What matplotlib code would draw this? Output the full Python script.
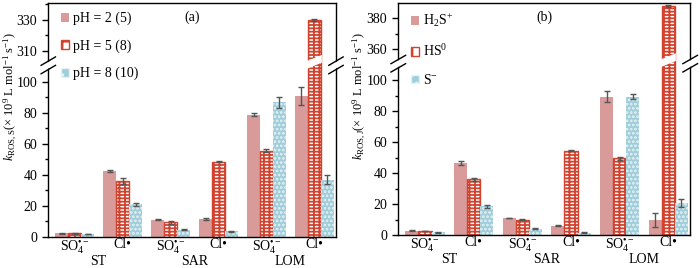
import numpy as np
import matplotlib.pyplot as plt
from matplotlib.patches import Polygon, Patch

plt.rcParams['font.family'] = ['Liberation Serif', 'DejaVu Serif']
plt.rcParams['mathtext.fontset'] = 'custom'
plt.rcParams['mathtext.rm'] = 'Liberation Serif'
plt.rcParams['mathtext.it'] = 'Liberation Serif:italic'
plt.rcParams['hatch.linewidth'] = 1.3

# data
groups = ['ST', 'SAR', 'LOM']
radicals = ['SO$_4^{•−}$', 'Cl•']

# panel (a) : pH = 2, 5, 8
a_ph2 = [2.5, 42.5, 11.0, 11.5, 79.0, 91.0]
a_ph2_err = [0.3, 0.6, 0.3, 0.4, 1.0, 6.0]
a_ph5 = [2.3, 36.0, 9.5, 48.5, 55.5, 330.0]
a_ph5_err = [0.2, 2.0, 1.0, 0.3, 1.0, 0.6]
a_ph8 = [1.8, 21.0, 4.5, 3.5, 87.0, 37.0]
a_ph8_err = [0.2, 1.0, 0.3, 0.4, 3.5, 3.0]
a_labels = ['pH = 2 (5)', 'pH = 5 (8)', 'pH = 8 (10)']

# panel (b) : species
b_h2s = [2.8, 46.5, 11.0, 6.0, 89.5, 10.0]
b_h2s_err = [0.3, 1.2, 0.3, 0.3, 3.5, 4.5]
b_hs = [2.5, 36.0, 10.0, 54.5, 49.5, 388.0]
b_hs_err = [0.2, 1.0, 0.5, 0.3, 1.0, 0.5]
b_s = [1.7, 18.5, 4.0, 1.5, 89.5, 20.5]
b_s_err = [0.3, 0.8, 0.3, 0.3, 1.5, 2.5]
b_labels = ['H$_2$S$^{+}$', 'HS$^{0}$', 'S$^{−}$']

pink = '#d99a9a'
red = '#d2432f'
blue = '#9fcdd9'


def draw_panel(ax, series, errs, labels, offset, top_ticks, ylab, tag, ytop):
    brk = 113
    x = np.arange(6)
    w = 0.27
    disp = lambda v: np.array([vv - offset if vv > brk else vv for vv in v])
    # pink
    ax.bar(x - w, disp(series[0]), w, color=pink, edgecolor='none', zorder=2)
    # red brick
    ax.bar(x, disp(series[1]), w, facecolor='white', edgecolor=red,
           hatch='-----|||', linewidth=1.0, zorder=2)
    # blue dotted
    ax.bar(x + w, disp(series[2]), w, color=blue, edgecolor='none', zorder=2)
    ax.bar(x + w, disp(series[2]), w, facecolor='none', edgecolor='#e6f3f6',
           hatch='....', linewidth=0, zorder=2)
    for k, dx in enumerate([-w, 0, w]):
        ax.errorbar(x + dx, disp(series[k]), yerr=errs[k], fmt='none',
                    ecolor='#555555', elinewidth=1, capsize=2.5, capthick=1, zorder=3)

    # white break band over tall bars
    d = 2.5
    for k, dx in enumerate([-w, 0, w]):
        for i, v in enumerate(series[k]):
            if v > brk:
                x0 = x[i] + dx - w / 2 - 0.02
                x1 = x[i] + dx + w / 2 + 0.02
                ax.add_patch(Polygon([[x0, brk - d - 2], [x1, brk - d + 2],
                                      [x1, brk + d + 2], [x0, brk + d - 2]],
                                     closed=True, facecolor='white',
                                     edgecolor='none', zorder=4))

    ax.set_xlim(-0.55, 5.45)
    ax.set_ylim(0, ytop)
    low = [0, 20, 40, 60, 80, 100]
    ax.set_yticks(low + [t - offset for t in top_ticks])
    ax.set_yticklabels([str(t) for t in low + top_ticks], fontsize=10)
    minor = [10, 30, 50, 70, 90] + [t + 10 - offset for t in top_ticks]
    ax.set_yticks([m for m in minor if m < ytop], minor=True)
    ax.tick_params(axis='y', which='major', length=4, width=1, direction='out', pad=4)
    ax.tick_params(axis='y', which='minor', length=2, width=1, direction='out')
    ax.tick_params(axis='x', length=0, pad=1)
    ax.set_xticks(x)
    ax.set_xticklabels(radicals * 3, fontsize=10)
    for i, g in enumerate(groups):
        ax.text(2 * i + 0.5, -0.105, g, transform=ax.get_xaxis_transform(),
                ha='center', va='center', fontsize=10)
    for s in ax.spines.values():
        s.set_linewidth(1.0)
    ax.set_ylabel(ylab, fontsize=9)
    ax.yaxis.set_label_coords(-0.107, 0.6)
    ax.text(0.5, 0.94, tag, transform=ax.transAxes, ha='center', va='center', fontsize=10)

    # break marks on spines
    yb = brk / ytop
    for xs in [0, 1]:
        ax.plot([xs - 0.02, xs + 0.02], [yb - 0.03, yb + 0.0], transform=ax.transAxes,
                color='white', lw=4, clip_on=False, zorder=5)
        for dy in [-0.018, 0.018]:
            ax.plot([xs - 0.025, xs + 0.025], [yb - 0.033 + dy, yb + 0.003 + dy],
                    transform=ax.transAxes, color='black', lw=1, clip_on=False, zorder=6)

    handles = [Patch(facecolor=pink, edgecolor='none'),
               Patch(facecolor='white', edgecolor=red, hatch='-||'),
               Patch(facecolor=blue, edgecolor='#e6f3f6', hatch='..')]
    ax.legend(handles, labels, loc='upper left', bbox_to_anchor=(0.0, 1.015),
              frameon=False, fontsize=10, handlelength=0.6, handleheight=0.6,
              handletextpad=0.3, labelspacing=1.0)


fig = plt.figure(figsize=(7, 2.68), dpi=100)
ax1 = fig.add_axes([0.069, 0.116, 0.411, 0.873])
ax2 = fig.add_axes([0.569, 0.123, 0.417, 0.866])

ylab_a = '$k_{\\mathrm{ROS,S}}$(× 10$^{9}$ L mol$^{-1}$ s$^{-1}$)'
ylab_b = '$k_{\\mathrm{ROS,J}}$(× 10$^{9}$ L mol$^{-1}$ s$^{-1}$)'

draw_panel(ax1, [a_ph2, a_ph5, a_ph8], [a_ph2_err, a_ph5_err, a_ph8_err],
           a_labels, 190, [310, 330], ylab_a, '(a)', 151)
draw_panel(ax2, [b_h2s, b_hs, b_s], [b_h2s_err, b_hs_err, b_s_err],
           b_labels, 240, [360, 380], ylab_b, '(b)', 150)

fig.savefig('out.png', dpi=100)
